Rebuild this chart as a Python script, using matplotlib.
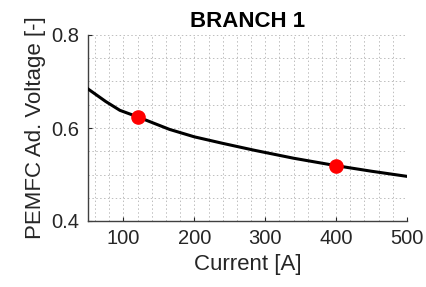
import matplotlib
matplotlib.use("Agg")
import matplotlib.pyplot as plt
from matplotlib.ticker import MultipleLocator

plt.rcParams['font.family'] = ['Liberation Sans', 'DejaVu Sans']

current = [50, 75, 95, 120, 140, 165, 200, 240, 285, 340, 400, 450, 500]
voltage = [0.684, 0.657, 0.638, 0.624, 0.612, 0.597, 0.581, 0.567, 0.552, 0.535, 0.519, 0.507, 0.496]
point_current = [120, 400]
point_voltage = [0.624, 0.518]
x_ticks = [100, 200, 300, 400, 500]
y_ticks = [0.4, 0.6, 0.8]

fig = plt.figure(figsize=(4.26, 2.87), dpi=100)
ax = fig.add_axes([88/426, 1-221/287, (407-88)/426, (221-35)/287])

ax.plot(current, voltage, color='black', linewidth=2.2, zorder=3)
ax.plot(point_current, point_voltage, 'o', color='red', markersize=9.5, zorder=4)

ax.set_xlim(50, 500)
ax.set_ylim(0.4, 0.8)
ax.set_xticks(x_ticks)
ax.set_yticks(y_ticks)
ax.set_yticklabels(['0.4', '0.6', '0.8'])
ax.xaxis.set_minor_locator(MultipleLocator(20))
ax.yaxis.set_minor_locator(MultipleLocator(0.05))
ax.grid(which='both', linestyle=(0, (1.5, 2.5)), color='#bdbdbd', linewidth=0.7)
ax.tick_params(which='minor', length=0)
ax.tick_params(which='major', direction='in', length=3, width=0.8, colors='#262626',
               labelsize=14.5, pad=6)

for s in ['top', 'right']:
    ax.spines[s].set_visible(False)
for s in ['left', 'bottom']:
    ax.spines[s].set_color('#404040')
    ax.spines[s].set_linewidth(1.0)

ax.set_xlabel('Current [A]', fontsize=16, color='#262626', labelpad=4)
ax.set_ylabel('PEMFC Ad. Voltage [-]', fontsize=16, color='#262626', labelpad=4)
ax.set_title('BRANCH 1', fontsize=16, fontweight='bold', color='black', pad=6)

fig.savefig('out.png', dpi=100)
